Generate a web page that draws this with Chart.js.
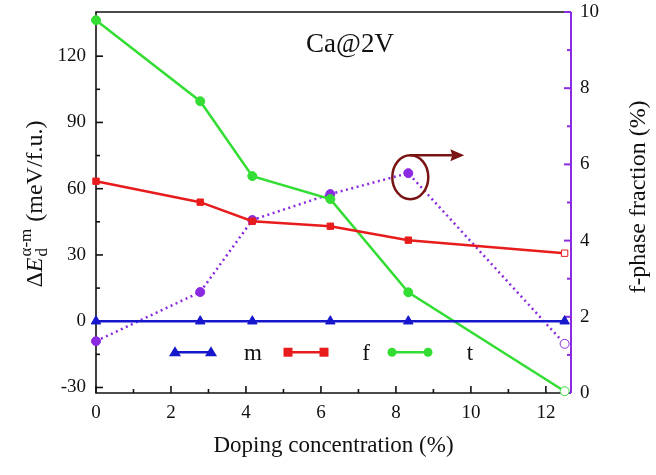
<!DOCTYPE html>
<html lang="en">
<head>
<meta charset="UTF-8">
<title>Ca@2V</title>
<script src="https://cdn.jsdelivr.net/npm/chart.js@4.4.0/dist/chart.umd.min.js"></script>
<style>
    body { margin: 0; background: #fff; }
</style>
</head>
<body>
<canvas id="chart" width="656" height="475"></canvas>
<script>
// values
const doping   = [0, 2.78, 4.17, 6.25, 8.33, 12.5]
const mVals    = [0, 0, 0, 0, 0, 0]
const fVals    = [63.4, 53.9, 45.3, 43.0, 36.7, 30.8]
const tVals    = [136.3, 99.6, 65.7, 55.3, 13.1, -31.7]
const fracVals = [1.36, 2.65, 4.54, 5.22, 5.77, 1.29]

const xTicks  = [0, 2, 4, 6, 8, 10, 12]
const yTicks  = [-30, 0, 30, 60, 90, 120]
const y2Ticks = [0, 2, 4, 6, 8, 10]
const xMinor  = [1, 3, 5, 7, 9, 11]
const yMinor  = [-15, 15, 45, 75, 105, 135]
const y2Minor = [1, 3, 5, 7, 9]

const BLUE = '#1616cc', RED = '#e81c1c', GREEN = '#33dd33', PURPLE = '#8a2be2', MAROON = '#7a1414'
const SERIF = '"Liberation Serif", "Times New Roman", serif'

const pts = vals => doping.map((x, i) => ({x: x, y: vals[i]}))
// last point is drawn open
const openLast = (color, n) => doping.map((d, i) => i === n - 1 ? '#fff' : color)

const data = {
    datasets: [
        {label: 'm', data: pts(mVals), borderColor: BLUE, backgroundColor: BLUE,
         pointStyle: 'triangle', pointRadius: 5.5, borderWidth: 2.5, pointBorderWidth: 1, yAxisID: 'y'},
        {label: 'f', data: pts(fVals), borderColor: RED, pointBackgroundColor: openLast(RED, doping.length),
         pointStyle: 'rect', pointRadius: 4.5, borderWidth: 2.5, pointBorderWidth: 1, yAxisID: 'y'},
        {label: 't', data: pts(tVals), borderColor: GREEN, pointBackgroundColor: openLast(GREEN, doping.length),
         pointStyle: 'circle', pointRadius: 4.5, borderWidth: 2.5, pointBorderWidth: 1, yAxisID: 'y'},
        {label: 'frac', data: pts(fracVals), borderColor: PURPLE, pointBackgroundColor: openLast(PURPLE, doping.length),
         pointStyle: 'circle', pointRadius: 4.5, borderWidth: 2.5, borderDash: [2, 3.5], pointBorderWidth: 1, yAxisID: 'y2'}
    ]
}

function setTicks(list) {
    return scale => { scale.ticks = list.map(v => ({value: v})) }
}

// fixed box sizes so the plot area matches the figure
function fixBox(w, h) {
    return s => {
        if (w) s.width = w
        if (h) s.height = h
        s.paddingTop = 0; s.paddingBottom = 0; s.paddingLeft = 0; s.paddingRight = 0
    }
}

function tickMarks(ctx, scale, list, len, dir) {
    list.forEach(v => {
        const p = scale.getPixelForValue(v)
        ctx.beginPath()
        if (dir === 'up') { ctx.moveTo(p, scale.top); ctx.lineTo(p, scale.top - len) }
        else if (dir === 'right') { ctx.moveTo(scale.right, p); ctx.lineTo(scale.right + len, p) }
        else { ctx.moveTo(scale.left, p); ctx.lineTo(scale.left - len, p) }
        ctx.stroke()
    })
}

function marker(ctx, style, x, y, color) {
    ctx.fillStyle = color
    ctx.beginPath()
    if (style === 'triangle') {
        ctx.moveTo(x, y - 6); ctx.lineTo(x + 6, y + 4); ctx.lineTo(x - 6, y + 4); ctx.closePath()
    } else if (style === 'rect') {
        ctx.rect(x - 4.5, y - 4.5, 9, 9)
    } else {
        ctx.arc(x, y, 4.5, 0, Math.PI * 2)
    }
    ctx.fill()
}

const frame = {
    id: 'frame',
    beforeDatasetsDraw(chart) {
        const {ctx, chartArea: a, scales} = chart
        ctx.save()
        ctx.lineWidth = 1.6
        ctx.strokeStyle = '#111'
        ctx.beginPath()
        ctx.moveTo(a.right, a.top); ctx.lineTo(a.left, a.top); ctx.lineTo(a.left, a.bottom); ctx.lineTo(a.right, a.bottom)
        ctx.stroke()
        // inward ticks
        tickMarks(ctx, scales.x, xTicks, 7, 'up')
        tickMarks(ctx, scales.x, xMinor, 4, 'up')
        tickMarks(ctx, scales.y, yTicks, 7, 'right')
        tickMarks(ctx, scales.y, yMinor, 4, 'right')
        ctx.strokeStyle = PURPLE
        ctx.lineWidth = 2
        ctx.beginPath(); ctx.moveTo(a.right, a.top); ctx.lineTo(a.right, a.bottom); ctx.stroke()
        tickMarks(ctx, scales.y2, y2Ticks, 7, 'left')
        tickMarks(ctx, scales.y2, y2Minor, 4, 'left')
        ctx.restore()
    },
    afterDraw(chart) {
        const {ctx, chartArea: a, scales} = chart
        ctx.save()

        // panel label
        ctx.fillStyle = '#111'
        ctx.font = '27px ' + SERIF
        ctx.textAlign = 'center'
        ctx.textBaseline = 'middle'
        ctx.fillText('Ca@2V', a.left + 254, a.top + 33)

        // ellipse + arrow pointing to the right axis
        const px = scales.x.getPixelForValue(doping[4])
        const py = scales.y2.getPixelForValue(fracVals[4])
        ctx.strokeStyle = MAROON
        ctx.fillStyle = MAROON
        ctx.lineWidth = 2.5
        ctx.beginPath()
        ctx.ellipse(px + 2, py + 4, 18, 22, 0, 0, Math.PI * 2)
        ctx.stroke()
        ctx.beginPath()
        ctx.moveTo(px + 2, py - 18); ctx.lineTo(px + 44, py - 18); ctx.stroke()
        ctx.beginPath()
        ctx.moveTo(px + 56, py - 18); ctx.lineTo(px + 42, py - 24); ctx.lineTo(px + 44, py - 18); ctx.lineTo(px + 42, py - 12)
        ctx.closePath(); ctx.fill()

        // legend: line with a marker at each end
        const ly = scales.y.getPixelForValue(0) + 31
        const items = [['triangle', BLUE, 'm', 79], ['rect', RED, 'f', 192], ['circle', GREEN, 't', 296]]
        items.forEach(([style, color, label, off]) => {
            const x0 = a.left + off, x1 = x0 + 36
            ctx.strokeStyle = color
            ctx.lineWidth = 2.5
            ctx.beginPath(); ctx.moveTo(x0, ly); ctx.lineTo(x1, ly); ctx.stroke()
            marker(ctx, style, x0, ly, color)
            marker(ctx, style, x1, ly, color)
            ctx.fillStyle = '#111'
            ctx.font = '23px ' + SERIF
            ctx.textAlign = 'center'
            ctx.textBaseline = 'middle'
            ctx.fillText(label, x1 + 42, ly + 2)
        })

        // axis titles
        ctx.fillStyle = '#111'
        ctx.textBaseline = 'alphabetic'
        ctx.font = '23px ' + SERIF
        ctx.textAlign = 'center'
        ctx.fillText('Doping concentration (%)', (a.left + a.right) / 2, 452)

        ctx.save()
        ctx.font = '24px ' + SERIF
        ctx.translate(645, 197)
        ctx.rotate(-Math.PI / 2)
        ctx.fillText('f-phase fraction (%)', 0, 0)
        ctx.restore()

        // left title with sub/superscript
        ctx.save()
        ctx.translate(42, 204)
        ctx.rotate(-Math.PI / 2)
        ctx.textAlign = 'left'
        const big = '24px ' + SERIF, ital = 'italic 24px ' + SERIF, small = '17px ' + SERIF
        ctx.font = big;  const wD = ctx.measureText('\u0394').width
        ctx.font = ital; const wE = ctx.measureText('E').width
        ctx.font = small; const wSub = Math.max(ctx.measureText('d').width, ctx.measureText('\u03b1-m').width)
        ctx.font = big;  const wRest = ctx.measureText(' (meV/f.u.)').width
        let x = -(wD + wE + wSub + 2 + wRest) / 2
        ctx.font = big;  ctx.fillText('\u0394', x, 0); x += wD
        ctx.font = ital; ctx.fillText('E', x, 0); x += wE
        ctx.font = small
        ctx.fillText('\u03b1-m', x + 1, -11)
        ctx.fillText('d', x + 1, 5)
        x += wSub + 2
        ctx.font = big; ctx.fillText(' (meV/f.u.)', x, 0)
        ctx.restore()

        ctx.restore()
    }
}

const tickFont = {family: SERIF, size: 19}

new Chart(document.getElementById('chart'), {
    type: 'line',
    data: data,
    options: {
        responsive: false,
        animation: false,
        layout: {padding: {top: 12}},
        datasets: {line: {clip: false}},
        plugins: {legend: {display: false}, tooltip: {enabled: false}},
        scales: {
            x: {
                type: 'linear', min: 0, max: 12.67,
                afterBuildTicks: setTicks(xTicks),
                afterFit: fixBox(0, 82),
                grid: {display: false, drawTicks: false},
                border: {display: false},
                ticks: {font: tickFont, color: '#111', padding: 9}
            },
            y: {
                type: 'linear', position: 'left', min: -32.5, max: 140,
                afterBuildTicks: setTicks(yTicks),
                afterFit: fixBox(96, 0),
                grid: {display: false, drawTicks: false},
                border: {display: false},
                ticks: {font: tickFont, color: '#111', padding: 10}
            },
            y2: {
                type: 'linear', position: 'right', min: 0, max: 10,
                afterBuildTicks: setTicks(y2Ticks),
                afterFit: fixBox(85, 0),
                grid: {display: false, drawTicks: false},
                border: {display: false},
                ticks: {font: tickFont, color: '#111', padding: 9}
            }
        }
    },
    plugins: [frame]
})
</script>
</body>
</html>
